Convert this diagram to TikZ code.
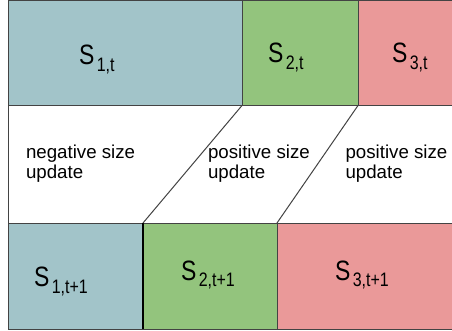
\documentclass[tikz,border=0pt]{standalone}
\usepackage{fontspec}
\setmainfont{Liberation Sans}
\definecolor{cblue}{HTML}{A2C4C9}
\definecolor{cgreen}{HTML}{93C47D}
\definecolor{cred}{HTML}{EA9999}
\definecolor{cline}{HTML}{434343}
\newcommand\slbl[2]{\scalebox{0.82}[1]{\fontsize{28}{28}\selectfont S\hspace{3pt}\raisebox{-6.5pt}{\fontsize{19.5}{19.5}\selectfont #2}}}
\tikzset{
  cell/.style={draw=cline, line width=1pt, minimum height=#1, inner sep=0, outer sep=0, anchor=center},
  lbl/.style={anchor=base west, inner sep=0, outer sep=0},
  upd/.style={anchor=base west, inner sep=0, outer sep=0, align=left, font=\fontsize{18.7}{20}\selectfont},
  sep/.style={draw=cline, line width=1pt}
}
\begin{document}
\begin{tikzpicture}[x=1pt,y=-1pt]
\useasboundingbox[fill=white] (0,0) rectangle (452,331);
% top row
\node[cell=104.5pt, fill=cblue, minimum width=234pt] (t1) at (125,53.25) {};
\node[cell=104.5pt, fill=cgreen, minimum width=116pt] (t2) at (300,53.25) {};
\node[cell=104.5pt, fill=cred, minimum width=96pt] (t3) at (406,53.25) {};
% bottom row
\node[cell=106pt, fill=cblue, minimum width=135pt] (b1) at (75.5,276) {};
\node[cell=106pt, fill=cgreen, minimum width=134pt] (b2) at (210,276) {};
\node[cell=106pt, fill=cred, minimum width=177pt] (b3) at (365.5,276) {};
\draw[black, line width=1.8pt] (b1.north east) -- (b1.south east);
% middle region
\draw[sep] (t1.south west) -- (b1.north west);
\draw[sep] (t1.south east) -- (b1.north east);
\draw[sep] (t2.south east) -- (b2.north east);
% labels
\node[lbl] (l1) at (79,65) {\slbl{S}{1,t}};
\node[lbl] (l2) at (268,63) {\slbl{S}{2,t}};
\node[lbl] (l3) at (392,63) {\slbl{S}{3,t}};
\node[lbl] (l4) at (34,286.5) {\slbl{S}{1,t+1}};
\node[lbl] (l5) at (181,280) {\slbl{S}{2,t+1}};
\node[lbl] (l6) at (335,280) {\slbl{S}{3,t+1}};
\node[upd] (u1) at (26,178.3) {negative size\\update};
\node[upd] (u2) at (208,178.3) {positive size\\update};
\node[upd] (u3) at (345.5,178.3) {positive size\\update};
\end{tikzpicture}
\end{document}
